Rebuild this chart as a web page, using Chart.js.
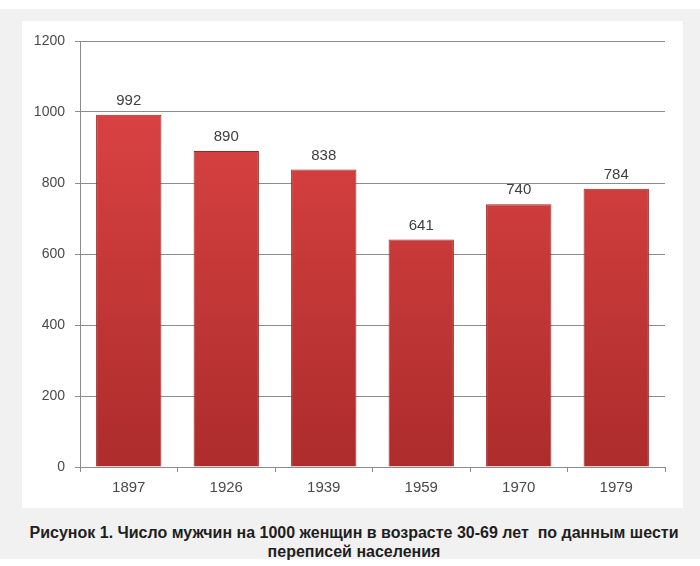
<!DOCTYPE html>
<html>
<head>
<meta charset="utf-8">
<script src="https://cdn.jsdelivr.net/npm/chart.js@4/dist/chart.umd.min.js"></script>
<style>
  body { margin: 0; background: #fff; width: 700px; height: 566px; overflow: hidden; position: relative; }
  #back { position: absolute; left: 0; top: 9px; width: 700px; height: 550px; background: #f1f1f1; }
  #panel { position: absolute; left: 22px; top: 21px; width: 661px; height: 487px; background: #fff; }
  #caption { position: absolute; left: 4px; top: 523px; width: 700px; text-align: center;
    font: bold 16px "Liberation Sans", Arial, sans-serif; color: #1e1e1e; line-height: 19px; }
</style>
</head>
<body>
<div id="back"></div>
<div id="panel"><canvas id="bar-chart" width="661" height="487"></canvas></div>
<div id="caption">Рисунок 1. Число мужчин на 1000 женщин в возрасте 30-69 лет&nbsp; по данным шести<br>переписей населения</div>
<script>
// census years and men per 1000 women
const years = ["1897", "1926", "1939", "1959", "1970", "1979"];
const menPer1000 = [992, 890, 838, 641, 740, 784];
const yTicks = [0, 200, 400, 600, 800, 1000, 1200];

// draw the value above each bar
const valueLabels = {
    id: 'valueLabels',
    afterDatasetsDraw(chart) {
        const ctx = chart.ctx;
        const meta = chart.getDatasetMeta(0);
        ctx.save();
        ctx.font = '15px "Liberation Sans", Arial, sans-serif';
        ctx.fillStyle = '#404040';
        ctx.textAlign = 'center';
        ctx.textBaseline = 'middle';
        meta.data.forEach(function (bar, i) {
            ctx.fillText(menPer1000[i], bar.x, bar.y - 14);
        });
        ctx.restore();
    }
};

function barFill(context) {
    const chart = context.chart;
    const area = chart.chartArea;
    if (!area) return '#d03a3a';
    const g = chart.ctx.createLinearGradient(0, area.top, 0, area.bottom);
    g.addColorStop(0, '#e24646');
    g.addColorStop(1, '#ad2c2c');
    return g;
}

const config = {
    type: 'bar',
    data: {
        labels: years,
        datasets: [{
            data: menPer1000,
            backgroundColor: barFill,
            borderColor: '#9a2626',
            borderWidth: 1,
            categoryPercentage: 1,
            barPercentage: 0.67
        }]
    },
    options: {
        responsive: false,
        animation: false,
        layout: { padding: { top: 20, right: 18, left: 0, bottom: 0 } },
        plugins: { legend: { display: false }, tooltip: { enabled: false } },
        scales: {
            x: {
                grid: { drawOnChartArea: false, drawTicks: true, tickLength: 5, color: '#8c8c8c', offset: true },
                border: { color: '#8c8c8c' },
                ticks: { color: '#4a4a4a', font: { family: '"Liberation Sans", Arial, sans-serif', size: 15 }, padding: 7 },
                afterFit: function (scale) { scale.height = 41; }
            },
            y: {
                min: 0,
                max: 1200,
                afterBuildTicks: function (scale) { scale.ticks = yTicks.map(function (v) { return { value: v }; }); },
                grid: { color: '#8c8c8c', tickLength: 5 },
                border: { color: '#8c8c8c' },
                ticks: {
                    color: '#4a4a4a',
                    font: { family: '"Liberation Sans", Arial, sans-serif', size: 14 },
                    padding: 10,
                    callback: function (value) { return String(value); }
                },
                afterFit: function (scale) { scale.width = 58; }
            }
        }
    },
    plugins: [valueLabels]
};

const barChart = new Chart(document.getElementById('bar-chart'), config);
</script>
</body>
</html>
